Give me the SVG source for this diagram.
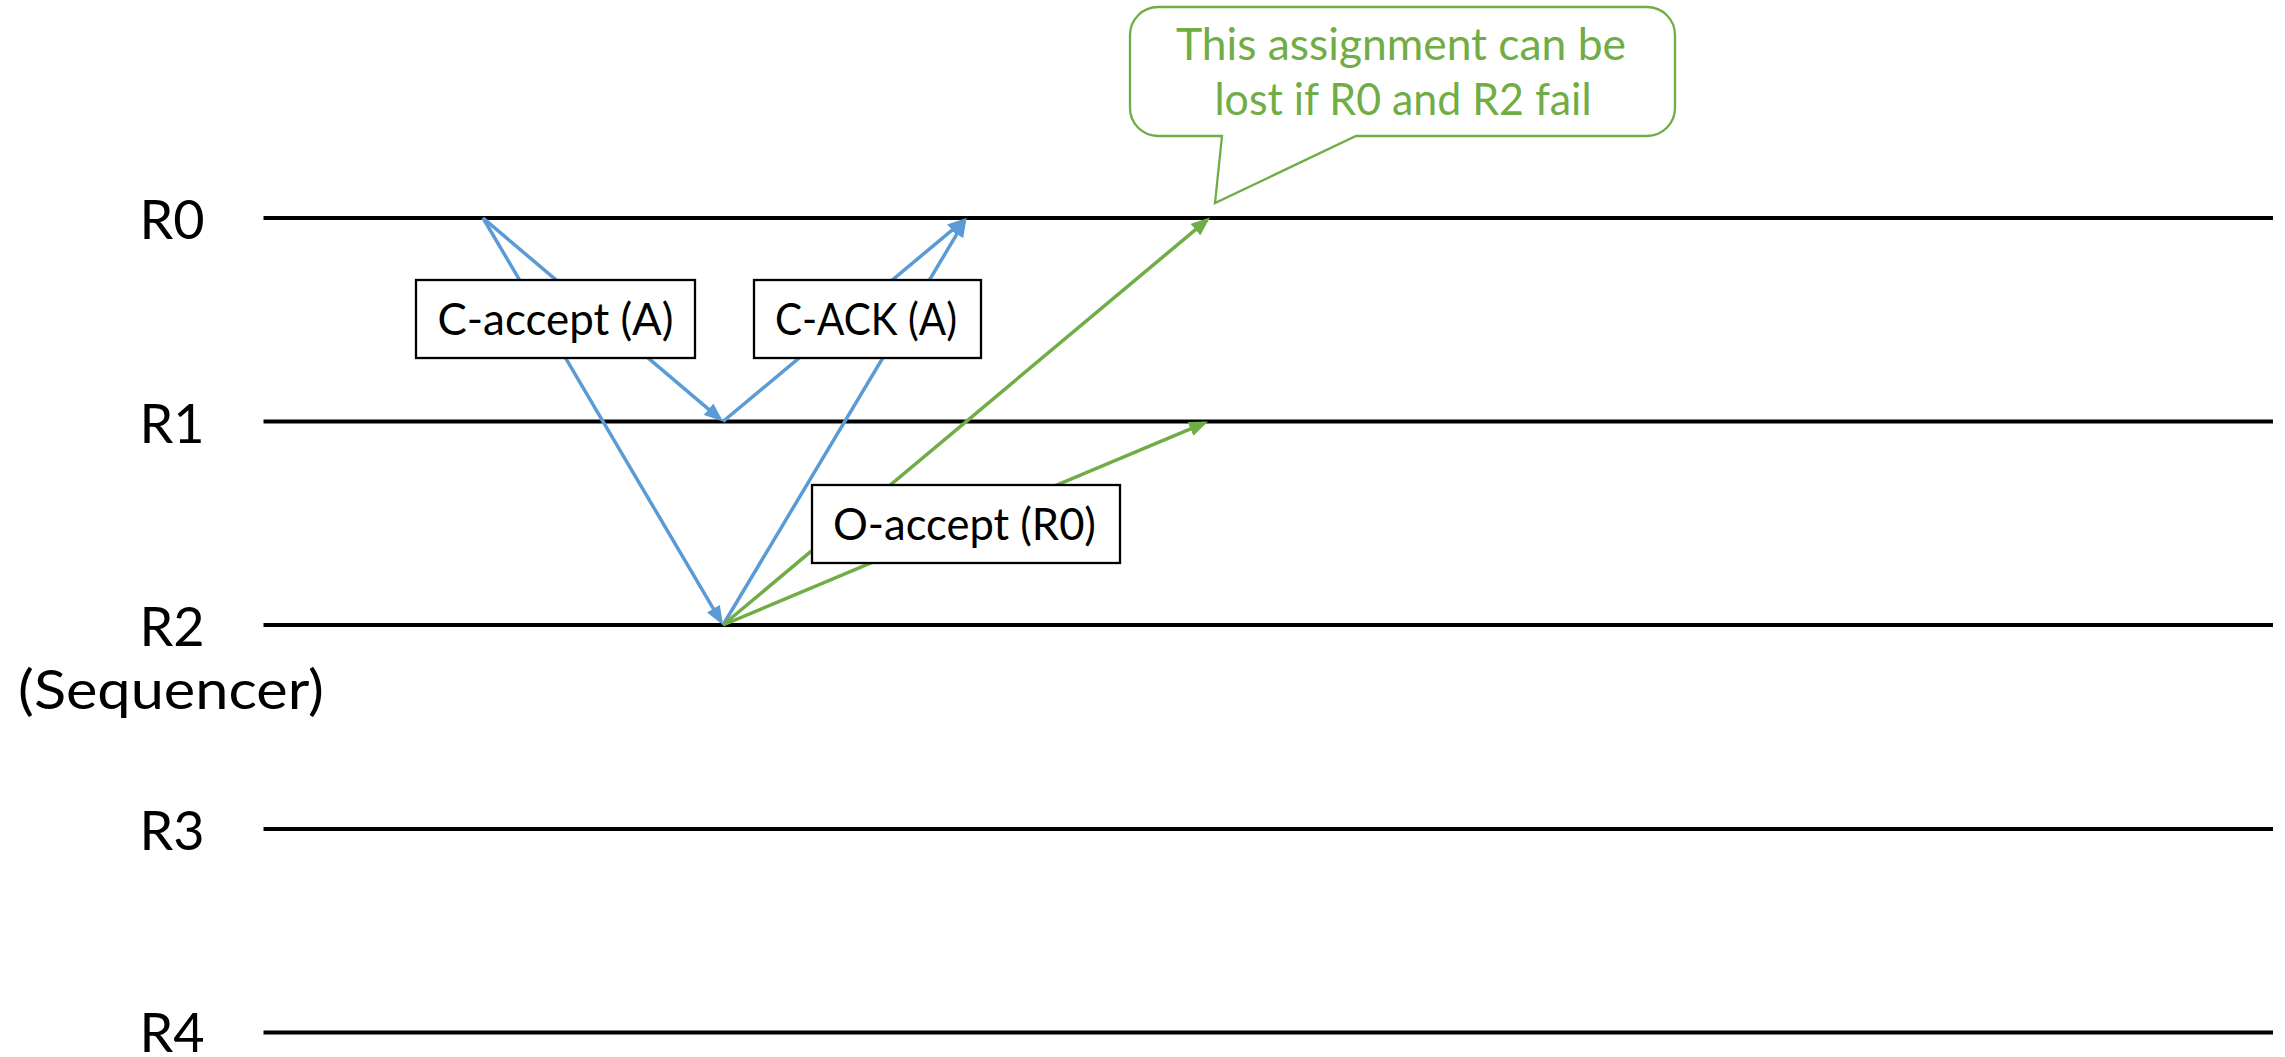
<svg xmlns="http://www.w3.org/2000/svg" width="2285" height="1057" viewBox="0 0 2285 1057">
  <style>
    .lane { stroke: #000; stroke-width: 4; }
    .rl { font-family: Lato, "Open Sans", sans-serif; font-size: 54px; fill: #000; text-anchor: middle; }
    .box rect { fill: #fff; stroke: #000; stroke-width: 2.3; }
    .box text { font-family: Lato, "Open Sans", sans-serif; font-size: 44px; fill: #000; text-anchor: middle; }
    .blue { stroke: #5B9BD5; stroke-width: 3.5; fill: none; marker-end: url(#ab); }
    .green { stroke: #70AD47; stroke-width: 3.5; fill: none; marker-end: url(#ag); }
    .callout path { fill: #fff; stroke: #70AD47; stroke-width: 2.3; }
    .callout text { font-family: Lato, "Open Sans", sans-serif; font-size: 44px; fill: #70AD47; text-anchor: middle; }
  </style>
  <defs>
    <marker id="ab" markerUnits="userSpaceOnUse" markerWidth="19" markerHeight="15" viewBox="0 0 19 15" refX="15" refY="7.5" orient="auto">
      <path d="M0,0 L19,7.5 L0,15 Z" fill="#5B9BD5"/>
    </marker>
    <marker id="ag" markerUnits="userSpaceOnUse" markerWidth="19" markerHeight="15" viewBox="0 0 19 15" refX="15" refY="7.5" orient="auto">
      <path d="M0,0 L19,7.5 L0,15 Z" fill="#70AD47"/>
    </marker>
  </defs>
  <rect width="2285" height="1057" fill="#fff"/>

  <g id="lanes">
    <g id="lane-R0"><line class="lane" x1="263.5" y1="218" x2="2273" y2="218"/><text class="rl" x="172" y="239">R0</text></g>
    <g id="lane-R1"><line class="lane" x1="263.5" y1="421.5" x2="2273" y2="421.5"/><text class="rl" x="172" y="442.5">R1</text></g>
    <g id="lane-R2"><line class="lane" x1="263.5" y1="625" x2="2273" y2="625"/><text class="rl" x="172" y="645.5">R2</text><text class="rl" x="171" y="709" textLength="306" lengthAdjust="spacingAndGlyphs">(Sequencer)</text></g>
    <g id="lane-R3"><line class="lane" x1="263.5" y1="829" x2="2273" y2="829"/><text class="rl" x="172" y="850">R3</text></g>
    <g id="lane-R4"><line class="lane" x1="263.5" y1="1032.5" x2="2273" y2="1032.5"/><text class="rl" x="172" y="1052">R4</text></g>
  </g>

  <g id="connectors">
    <line class="blue" x1="483" y1="218" x2="719.95" y2="418.9"/>
    <line class="blue" x1="483" y1="218" x2="720.97" y2="621.56"/>
    <line class="blue" x1="723" y1="421.5" x2="963.43" y2="220.57"/>
    <line class="blue" x1="723" y1="625" x2="964.45" y2="221.43"/>
    <line class="green" x1="723" y1="625" x2="1206.93" y2="220.07"/>
    <line class="green" x1="723" y1="625" x2="1204.31" y2="423.05"/>
  </g>

  <g id="c-accept" class="box">
    <rect x="416" y="280" width="279" height="78"/>
    <text x="555.5" y="335" textLength="236" lengthAdjust="spacingAndGlyphs">C-accept (A)</text>
  </g>
  <g id="c-ack" class="box">
    <rect x="754" y="280" width="227" height="78"/>
    <text x="866" y="335" textLength="182" lengthAdjust="spacingAndGlyphs">C-ACK (A)</text>
  </g>
  <g id="o-accept" class="box">
    <rect x="812" y="485" width="308" height="78"/>
    <text x="964.5" y="540" textLength="263" lengthAdjust="spacingAndGlyphs">O-accept (R0)</text>
  </g>

  <g id="callout" class="callout">
    <path d="M1158,7 H1647 A28,28 0 0 1 1675,35 V108 A28,28 0 0 1 1647,136 H1356 L1215,203 L1222,136 H1158 A28,28 0 0 1 1130,108 V35 A28,28 0 0 1 1158,7 Z"/>
    <text x="1401" y="60" textLength="450" lengthAdjust="spacingAndGlyphs">This assignment can be</text>
    <text x="1403" y="115" textLength="377" lengthAdjust="spacingAndGlyphs">lost if R0 and R2 fail</text>
  </g>
</svg>
